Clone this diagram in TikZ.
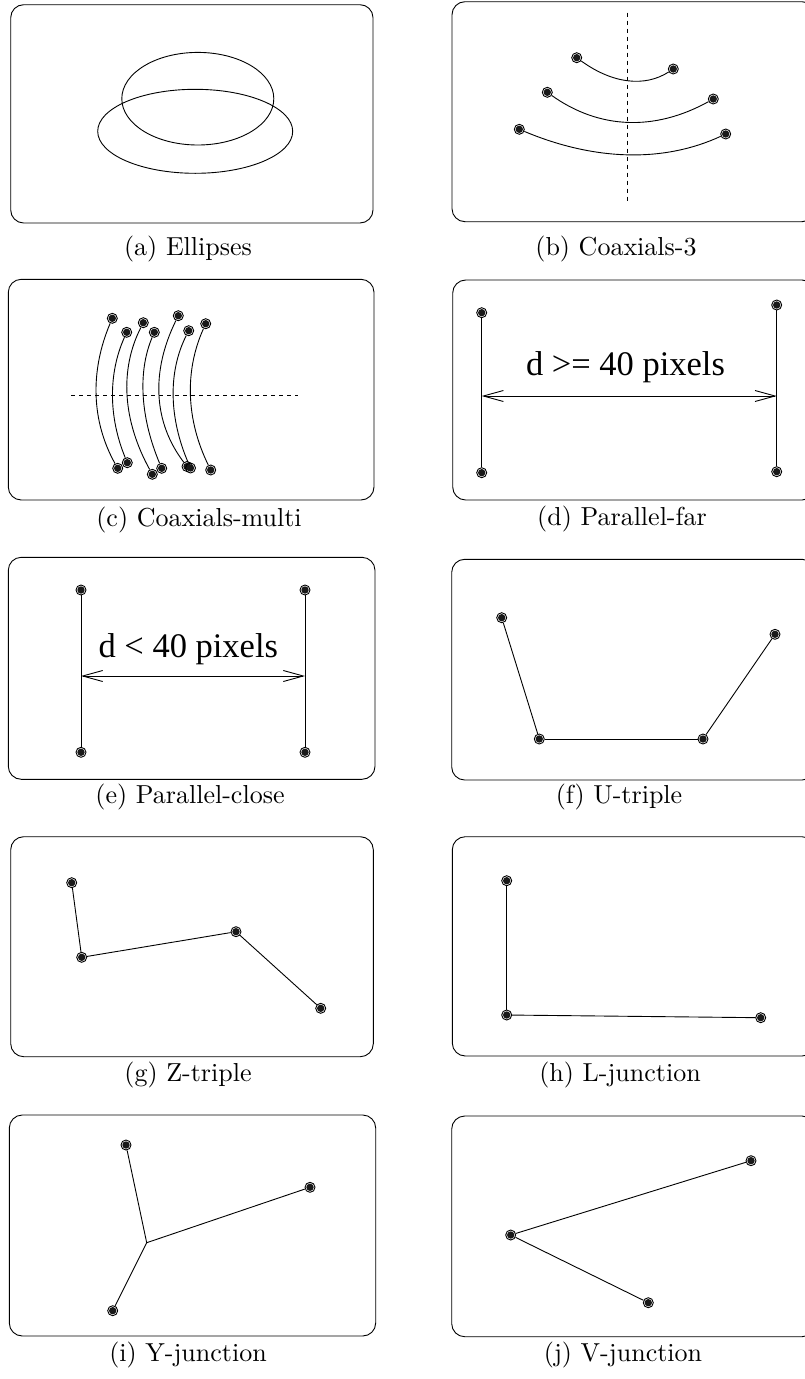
\documentclass[tikz,border=0pt]{standalone}
\usepackage{fontspec}
\usetikzlibrary{calc,arrows.meta}
\newfontfamily\capfont{lmroman10-regular.otf}
\newfontfamily\tmsfont{Liberation Serif}
\newcommand{\qarc}[3]{%
  \coordinate (tmpmid) at ($(#1)!.5!(#3)$);
  \coordinate (tmpc) at ($(#2)!-1!(tmpmid)$);
  \draw[ln] (#1) .. controls ($(#1)!2/3!(tmpc)$) and ($(#3)!2/3!(tmpc)$) .. (#3);}
\tikzset{
  panel/.style={draw, line width=0.9pt, rounded corners=13pt},
  ln/.style={line width=0.9pt},
  axisline/.style={line width=0.9pt, dash pattern=on 4pt off 4pt},
  mk/.style={circle, draw, line width=0.9pt, minimum size=10pt, inner sep=0pt,
    path picture={\fill[black!90] (path picture bounding box.center) circle (3.7pt);}},
  captxt/.style={anchor=base, inner sep=0pt, font=\capfont\fontsize{26}{30}\selectfont},
  bigtxt/.style={anchor=base, inner sep=0pt, font=\tmsfont\fontsize{34.5}{40}\selectfont},
  dimarrow/.style={line width=0.9pt, {Straight Barb[length=20pt,width=11pt]}-{Straight Barb[length=20pt,width=11pt]}}
}
\begin{document}
\begin{tikzpicture}[x=1pt,y=-1pt]
\useasboundingbox (0,0) rectangle (805,1379);
\clip (0,0) rectangle (805,1379);
% ---------- (a) ----------
\draw[panel] (10.7,4.7) rectangle (373,223);
\draw[ln] (197.8,98.7) ellipse [x radius=76, y radius=46.3];
\draw[ln] (195.2,131.3) ellipse [x radius=97.5, y radius=42];
\node[captxt] (capa) at (188,255) {(a) Ellipses};
% ---------- (b) ----------
\draw[panel] (452,1.7) rectangle (815,221.7);
\coordinate (bt) at (627.7,12.7);
\coordinate (bb) at (627.7,201.7);
\draw[axisline] (bt) -- (bb);
\node[mk] (b1) at (576.7,57.7) {};
\node[mk] (b2) at (673.3,69) {};
\node[mk] (b3) at (547.3,92.3) {};
\node[mk] (b4) at (713.3,99) {};
\node[mk] (b5) at (519.3,129.3) {};
\node[mk] (b6) at (725.7,134) {};
\coordinate (bm1) at (627.7,80);
\coordinate (bm2) at (627.7,121.7);
\coordinate (bm3) at (627.7,154.3);
\qarc{b1}{bm1}{b2}
\qarc{b3}{bm2}{b4}
\qarc{b5}{bm3}{b6}
\node[captxt] (capb) at (616,255) {(b) Coaxials-3};
% ---------- (c) ----------
\draw[panel] (8.3,279.3) rectangle (374,500);
\coordinate (cl) at (71,395.7);
\coordinate (cr) at (297.7,395.7);
\draw[axisline] (cl) -- (cr);
\node[mk] (ct1) at (112.3,318.3) {};
\node[mk] (ct2) at (126.7,332.3) {};
\node[mk] (ct3) at (143.3,322.7) {};
\node[mk] (ct4) at (154.3,332.3) {};
\node[mk] (ct5) at (178.3,315.7) {};
\node[mk] (ct6) at (188.7,330.7) {};
\node[mk] (ct7) at (205.7,323.7) {};
\node[mk] (cb1) at (117.7,468.3) {};
\node[mk] (cb2) at (127.3,462.7) {};
\node[mk] (cb3) at (152.3,474.3) {};
\node[mk] (cb4) at (161.7,468.3) {};
\node[mk] (cb5) at (187,466.5) {};
\node[mk] (cb6) at (190.5,468) {};
\node[mk] (cb7) at (210.7,470) {};
\coordinate (cm1) at (96.7,395.7);
\coordinate (cm2) at (113,395.7);
\coordinate (cm3) at (127.7,395.7);
\coordinate (cm4) at (143.7,395.7);
\coordinate (cm5) at (159.7,395.7);
\coordinate (cm6) at (173.7,395.7);
\coordinate (cm7) at (191,395.7);
\qarc{ct1}{cm1}{cb1}
\qarc{ct2}{cm2}{cb2}
\qarc{ct3}{cm3}{cb3}
\qarc{ct4}{cm4}{cb4}
\qarc{ct5}{cm5}{cb5}
\qarc{ct6}{cm6}{cb6}
\qarc{ct7}{cm7}{cb7}
\node[captxt] (capc) at (199,526) {(c) Coaxials-multi};
% ---------- (d) ----------
\draw[panel] (452.7,280) rectangle (815,500);
\node[mk] (d1) at (481.7,312.7) {};
\node[mk] (d2) at (481.7,472.7) {};
\node[mk] (d3) at (776.7,305) {};
\node[mk] (d4) at (776.7,471.7) {};
\draw[ln] (d1) -- (d2);
\draw[ln] (d3) -- (d4);
\coordinate (dl) at (481.7,396);
\coordinate (dr) at (776.7,396);
\draw[dimarrow] (dl) -- (dr);
\node[bigtxt] (dtxt) at (625.5,375) {d >= 40 pixels};
\node[captxt] (capd) at (622,525) {(d) Parallel-far};
% ---------- (e) ----------
\draw[panel] (8.3,557.3) rectangle (375,779.3);
\node[mk] (e1) at (81,590) {};
\node[mk] (e2) at (81,752.3) {};
\node[mk] (e3) at (305,590) {};
\node[mk] (e4) at (305,752.3) {};
\draw[ln] (e1) -- (e2);
\draw[ln] (e3) -- (e4);
\coordinate (el) at (81,676);
\coordinate (er) at (305,676);
\draw[dimarrow] (el) -- (er);
\node[bigtxt] (etxt) at (188.3,657.3) {d < 40 pixels};
\node[captxt] (cape) at (190,803) {(e) Parallel-close};
% ---------- (f) ----------
\draw[panel] (451.7,559.3) rectangle (815,780);
\node[mk] (f1) at (501.7,617.7) {};
\node[mk] (f2) at (539.3,739) {};
\node[mk] (f3) at (703,739) {};
\node[mk] (f4) at (775,634.3) {};
\draw[ln] (f1) -- (f2);
\draw[ln] (f2) -- (f3);
\draw[ln] (f3) -- (f4);
\node[captxt] (capf) at (619,803) {(f) U-triple};
% ---------- (g) ----------
\draw[panel] (10.7,836.7) rectangle (373.3,1056.7);
\node[mk] (g1) at (71.7,882.7) {};
\node[mk] (g2) at (81.7,957.3) {};
\node[mk] (g3) at (236,931.7) {};
\node[mk] (g4) at (320.7,1008.3) {};
\draw[ln] (g1) -- (g2);
\draw[ln] (g2) -- (g3);
\draw[ln] (g3) -- (g4);
\node[captxt] (capg) at (188,1081) {(g) Z-triple};
% ---------- (h) ----------
\draw[panel] (452.3,836.7) rectangle (815,1056);
\node[mk] (h1) at (506.7,880.7) {};
\node[mk] (h2) at (506.7,1015) {};
\node[mk] (h3) at (760.7,1017.7) {};
\draw[ln] (h1) -- (h2);
\draw[ln] (h2) -- (h3);
\node[captxt] (caph) at (620,1081) {(h) L-junction};
% ---------- (i) ----------
\draw[panel] (9.3,1115) rectangle (375.7,1336);
\node[mk] (i1) at (126,1145) {};
\node[mk] (i2) at (310,1187.3) {};
\node[mk] (i3) at (112.7,1310.7) {};
\coordinate (ij) at (146.7,1242.7);
\draw[ln] (i1) -- (ij);
\draw[ln] (i2) -- (ij);
\draw[ln] (i3) -- (ij);
\node[captxt] (capi) at (188,1361) {(i) Y-junction};
% ---------- (j) ----------
\draw[panel] (451.7,1116) rectangle (815,1336.7);
\node[mk] (j1) at (510.7,1235) {};
\node[mk] (j2) at (751,1160.7) {};
\node[mk] (j3) at (648.3,1302.7) {};
\draw[ln] (j1) -- (j2);
\draw[ln] (j1) -- (j3);
\node[captxt] (capj) at (623,1361) {(j) V-junction};
\end{tikzpicture}
\end{document}
